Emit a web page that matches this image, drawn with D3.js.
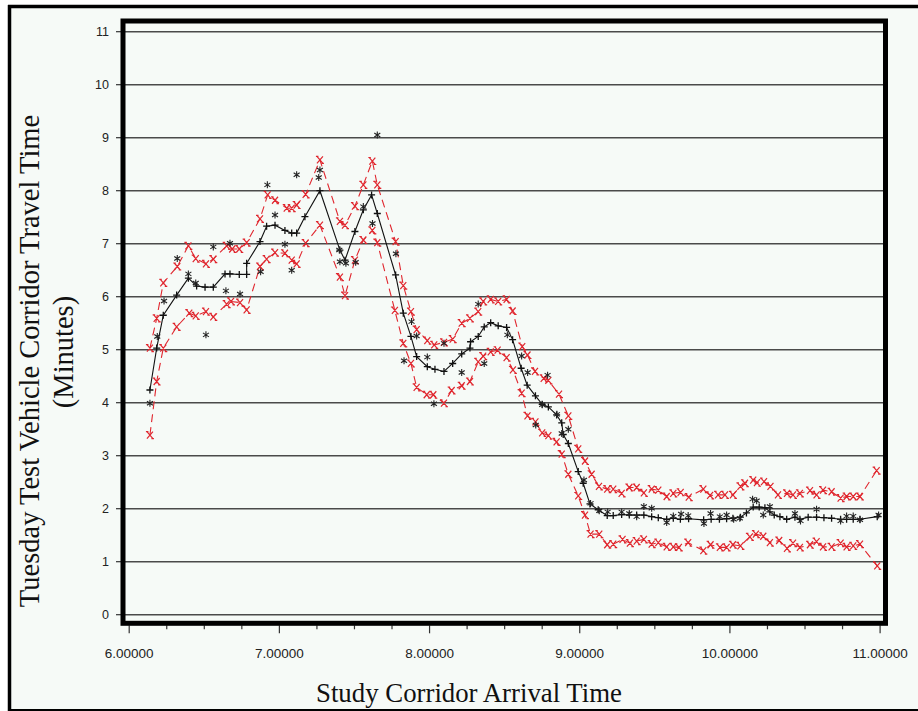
<!DOCTYPE html>
<html>
<head>
<meta charset="utf-8">
<script src="https://cdn.jsdelivr.net/npm/d3@7"></script>
<style>
  body { margin: 0; background: #fff; }
  svg { display: block; }
</style>
</head>
<body>
<svg></svg>
<script>
const width = 918;
const height = 711;

// smoothed mean travel time (solid black, "+")
const meanSeries = [
  [6.138,4.24],[6.183,5.03],[6.227,5.65],[6.316,6.03],[6.394,6.35],[6.449,6.20],[6.505,6.18],[6.56,6.18],
  [6.638,6.43],[6.671,6.43],[6.733,6.42],[6.782,6.42],[6.782,6.63],[6.871,7.04],[6.915,7.33],[6.971,7.35],
  [7.037,7.25],[7.082,7.20],[7.115,7.20],[7.17,7.51],[7.27,8.00],[7.403,6.88],[7.437,6.69],[7.503,7.23],
  [7.559,7.64],[7.614,7.92],[7.652,7.57],[7.774,6.41],[7.825,5.69],[7.876,5.25],[7.914,4.87],[7.985,4.68],
  [8.036,4.63],[8.096,4.59],[8.154,4.74],[8.214,4.92],[8.269,5.03],[8.273,5.15],[8.324,5.25],[8.364,5.43],
  [8.407,5.51],[8.457,5.45],[8.513,5.42],[8.553,5.19],[8.61,4.65],[8.65,4.33],[8.705,4.13],[8.75,3.97],
  [8.791,3.92],[8.846,3.77],[8.88,3.62],[8.89,3.40],[8.924,3.23],[8.99,2.70],[9.023,2.48],[9.068,2.09],
  [9.123,1.98],[9.183,1.87],[9.223,1.87],[9.279,1.89],[9.33,1.88],[9.379,1.88],[9.427,1.88],[9.479,1.85],
  [9.523,1.83],[9.579,1.80],[9.623,1.82],[9.67,1.80],[9.725,1.81],[9.825,1.79],[9.875,1.80],[9.93,1.80],
  [9.978,1.81],[10.02,1.82],[10.07,1.84],[10.11,1.92],[10.155,2.03],[10.195,2.03],[10.233,2.02],[10.266,1.94],
  [10.295,1.88],[10.333,1.85],[10.378,1.80],[10.433,1.84],[10.466,1.80],[10.521,1.84],[10.577,1.84],[10.626,1.83],
  [10.677,1.82],[10.737,1.80],[10.777,1.80],[10.821,1.80],[10.866,1.80],[10.981,1.85]
];

// upper bound (red dashed, "x")
const upperSeries = [
  [6.138,5.03],[6.183,5.59],[6.227,6.26],[6.32,6.57],[6.394,6.96],[6.443,6.72],[6.511,6.62],[6.56,6.71],
  [6.649,6.96],[6.686,6.90],[6.733,6.90],[6.782,7.02],[6.871,7.47],[6.922,7.92],[6.971,7.82],[7.049,7.67],
  [7.082,7.67],[7.115,7.73],[7.175,7.93],[7.27,8.58],[7.403,7.42],[7.437,7.35],[7.503,7.71],[7.559,8.11],
  [7.619,8.56],[7.652,8.11],[7.774,7.04],[7.825,6.21],[7.876,5.72],[7.914,5.38],[7.985,5.17],[8.031,5.09],
  [8.096,5.14],[8.154,5.20],[8.214,5.50],[8.269,5.59],[8.324,5.72],[8.357,5.91],[8.407,5.95],[8.457,5.91],
  [8.513,5.95],[8.553,5.73],[8.617,5.06],[8.652,4.90],[8.702,4.59],[8.76,4.46],[8.791,4.42],[8.862,4.16],
  [8.924,3.75],[8.99,3.13],[9.035,2.90],[9.079,2.65],[9.128,2.42],[9.183,2.37],[9.223,2.37],[9.279,2.29],
  [9.33,2.40],[9.379,2.40],[9.427,2.30],[9.479,2.37],[9.523,2.35],[9.579,2.23],[9.623,2.29],[9.672,2.31],
  [9.726,2.22],[9.823,2.37],[9.868,2.25],[9.921,2.26],[9.967,2.26],[10.02,2.26],[10.07,2.42],[10.1,2.48],
  [10.155,2.54],[10.18,2.49],[10.227,2.51],[10.27,2.42],[10.32,2.26],[10.38,2.29],[10.42,2.26],[10.466,2.29],
  [10.533,2.34],[10.577,2.26],[10.62,2.35],[10.677,2.32],[10.737,2.20],[10.777,2.23],[10.821,2.23],[10.866,2.23],
  [10.977,2.72]
];

// lower bound (red dashed, "x")
const lowerSeries = [
  [6.138,3.39],[6.183,4.40],[6.227,5.03],[6.316,5.43],[6.40,5.69],[6.443,5.64],[6.511,5.72],[6.56,5.62],
  [6.649,5.86],[6.678,5.91],[6.738,5.89],[6.782,5.75],[6.871,6.57],[6.915,6.71],[6.971,6.83],[7.037,6.82],
  [7.082,6.69],[7.115,6.62],[7.175,7.01],[7.27,7.35],[7.403,6.37],[7.437,6.02],[7.503,6.69],[7.559,7.07],
  [7.619,7.25],[7.652,7.02],[7.769,5.74],[7.825,5.12],[7.876,4.74],[7.914,4.29],[7.981,4.15],[8.025,4.15],
  [8.096,3.99],[8.147,4.23],[8.214,4.32],[8.269,4.40],[8.324,4.77],[8.357,4.88],[8.407,4.96],[8.453,4.99],
  [8.513,4.85],[8.555,4.62],[8.613,4.18],[8.652,3.75],[8.705,3.64],[8.75,3.43],[8.791,3.38],[8.846,3.26],
  [8.88,3.03],[8.924,2.65],[8.99,2.24],[9.035,1.88],[9.072,1.52],[9.13,1.52],[9.183,1.32],[9.223,1.33],
  [9.285,1.42],[9.334,1.35],[9.379,1.39],[9.427,1.42],[9.479,1.33],[9.523,1.36],[9.579,1.28],[9.623,1.28],
  [9.66,1.27],[9.722,1.36],[9.823,1.21],[9.871,1.32],[9.933,1.27],[9.978,1.27],[10.02,1.32],[10.07,1.30],
  [10.133,1.47],[10.173,1.52],[10.222,1.48],[10.266,1.36],[10.328,1.40],[10.38,1.25],[10.42,1.35],[10.466,1.27],
  [10.533,1.32],[10.577,1.38],[10.62,1.28],[10.677,1.28],[10.737,1.35],[10.777,1.28],[10.821,1.30],[10.866,1.33],
  [10.981,0.92]
];

// individual test vehicle runs ("*")
const observed = [
  [6.138,3.99],[6.187,5.25],[6.232,5.92],[6.32,6.72],[6.394,6.43],[6.443,6.26],[6.511,5.28],[6.56,6.94],
  [6.644,6.11],[6.671,7.01],[6.738,6.05],[6.875,6.47],[6.92,8.11],[6.971,7.54],[7.037,6.99],[7.082,6.50],
  [7.115,8.30],[7.262,8.25],[7.27,8.39],[7.399,6.88],[7.403,6.66],[7.443,6.63],[7.508,6.65],[7.559,7.70],
  [7.62,7.38],[7.652,9.05],[7.776,6.81],[7.83,4.79],[7.88,5.53],[7.914,5.26],[7.985,4.86],[8.029,3.98],
  [8.096,5.12],[8.214,4.57],[8.324,5.86],[8.364,4.74],[8.518,5.28],[8.613,4.88],[8.653,4.57],[8.707,3.58],
  [8.75,3.96],[8.786,4.52],[8.848,3.78],[8.88,3.42],[8.924,3.50],[9.028,2.54],[9.072,2.10],[9.13,1.96],
  [9.186,1.94],[9.279,1.94],[9.33,1.91],[9.379,1.85],[9.427,2.04],[9.479,2.01],[9.579,1.74],[9.623,1.86],
  [9.675,1.90],[9.722,1.87],[9.827,1.72],[9.871,1.91],[9.933,1.85],[9.978,1.88],[10.025,1.80],[10.066,1.82],
  [10.151,2.18],[10.178,2.15],[10.222,1.88],[10.266,2.04],[10.433,1.91],[10.47,1.77],[10.577,1.99],[10.737,1.77],
  [10.777,1.86],[10.821,1.86],[10.866,1.79],[10.99,1.88]
];

const yTicks = d3.range(0, 12);
const xTicks = [6, 7, 8, 9, 10, 11];
const xMinorTicks = d3.range(6, 11.01, 0.25);

const xLabel = "Study Corridor Arrival Time";
const yLabel1 = "Tuesday Test Vehicle Corridor Travel Time";
const yLabel2 = "(Minutes)";

const svg = d3.select("svg").attr("width", width).attr("height", height);

const x = d3.scaleLinear().domain([6, 11]).range([129.2, 880.1]);
const y = d3.scaleLinear().domain([0, 11]).range([614.7, 31.7]);

const frame = { left: 123, right: 885.5, top: 21, bottom: 623.3 };

// page background + outer border
svg.append("rect").attr("width", width).attr("height", height).attr("fill", "#fff");
svg.append("rect").attr("x", 9.5).attr("y", 6.5).attr("width", width - 9.5).attr("height", height - 8)
  .attr("fill", "#f6faf7");
svg.append("line").attr("x1", 8).attr("x2", width).attr("y1", 6.5).attr("y2", 6.5)
  .attr("stroke", "#000").attr("stroke-width", 3.5);
svg.append("line").attr("x1", 9.5).attr("x2", 9.5).attr("y1", 5).attr("y2", height)
  .attr("stroke", "#000").attr("stroke-width", 3.5);
svg.append("line").attr("x1", 8).attr("x2", width).attr("y1", 710).attr("y2", 710)
  .attr("stroke", "#000").attr("stroke-width", 2);

// gridlines
svg.append("g").selectAll("line")
  .data(yTicks)
  .join("line")
  .attr("x1", frame.left).attr("x2", frame.right)
  .attr("y1", d => y(d)).attr("y2", d => y(d))
  .attr("stroke", "#4a4a4a").attr("stroke-width", 1.6);

// y axis ticks + labels
const yAxis = svg.append("g");
yAxis.selectAll("line")
  .data(yTicks)
  .join("line")
  .attr("x1", 116).attr("x2", frame.left)
  .attr("y1", d => y(d)).attr("y2", d => y(d))
  .attr("stroke", "#333").attr("stroke-width", 1.2);
yAxis.selectAll("text")
  .data(yTicks)
  .join("text")
  .attr("x", 109).attr("y", d => y(d))
  .attr("dy", "0.35em")
  .attr("text-anchor", "end")
  .attr("font-family", "Liberation Sans, Arial, sans-serif")
  .attr("font-size", 12.5)
  .attr("fill", "#222")
  .text(d => d);

// x axis ticks + labels
const xAxis = svg.append("g");
xAxis.selectAll("line")
  .data(xMinorTicks)
  .join("line")
  .attr("x1", d => x(d)).attr("x2", d => x(d))
  .attr("y1", frame.bottom + 2)
  .attr("y2", d => Math.abs(d - Math.round(d)) < 1e-6 ? frame.bottom + 10 : frame.bottom + 6)
  .attr("stroke", "#333").attr("stroke-width", 1.2);
xAxis.selectAll("text")
  .data(xTicks)
  .join("text")
  .attr("x", d => x(d)).attr("y", 658)
  .attr("text-anchor", "middle")
  .attr("font-family", "Liberation Sans, Arial, sans-serif")
  .attr("font-size", 13.5)
  .attr("fill", "#222")
  .text(d => d.toFixed(5));

// axis titles
svg.append("text")
  .attr("x", 469).attr("y", 702)
  .attr("text-anchor", "middle")
  .attr("font-family", "Liberation Serif, Times New Roman, serif")
  .attr("font-size", 26.8)
  .attr("fill", "#111")
  .text(xLabel);
svg.append("text")
  .attr("transform", "translate(39,361) rotate(-90)")
  .attr("text-anchor", "middle")
  .attr("font-family", "Liberation Serif, Times New Roman, serif")
  .attr("font-size", 28.5)
  .attr("fill", "#111")
  .text(yLabel1);
svg.append("text")
  .attr("transform", "translate(73,352) rotate(-90)")
  .attr("text-anchor", "middle")
  .attr("font-family", "Liberation Serif, Times New Roman, serif")
  .attr("font-size", 28.5)
  .attr("fill", "#111")
  .text(yLabel2);

const line = d3.line().x(d => x(d[0])).y(d => y(d[1]));
const red = "#e0262e";

// red bound lines
[upperSeries, lowerSeries].forEach(series => {
  svg.append("path")
    .datum(series)
    .attr("d", line)
    .attr("fill", "none")
    .attr("stroke", red)
    .attr("stroke-width", 1.1)
    .attr("stroke-dasharray", "8,5");
  svg.append("g").selectAll("path")
    .data(series)
    .join("path")
    .attr("transform", d => `translate(${x(d[0])},${y(d[1])})`)
    .attr("d", "M-3,-3.5L3,3.5M3,-3.5L-3,3.5M-4,-3.5H-1.5M1.5,3.5H4")
    .attr("fill", "none")
    .attr("stroke", red)
    .attr("stroke-width", 1.2);
});

// mean line
svg.append("path")
  .datum(meanSeries)
  .attr("d", line)
  .attr("fill", "none")
  .attr("stroke", "#111")
  .attr("stroke-width", 1.1);
svg.append("g").selectAll("path")
  .data(meanSeries)
  .join("path")
  .attr("transform", d => `translate(${x(d[0])},${y(d[1])})`)
  .attr("d", "M-3.5,0H3.5M0,-3.5V3.5")
  .attr("fill", "none")
  .attr("stroke", "#111")
  .attr("stroke-width", 1.3);

// observed runs
svg.append("g").selectAll("path")
  .data(observed)
  .join("path")
  .attr("transform", d => `translate(${x(d[0])},${y(d[1])})`)
  .attr("d", "M0,-3.5V3.5M-3,-2L3,2M-3,2L3,-2")
  .attr("fill", "none")
  .attr("stroke", "#222")
  .attr("stroke-width", 1.1);

// thick plot frame
svg.append("rect")
  .attr("x", frame.left).attr("y", frame.top)
  .attr("width", frame.right - frame.left)
  .attr("height", frame.bottom - frame.top)
  .attr("fill", "none")
  .attr("stroke", "#000")
  .attr("stroke-width", 5);
</script>
</body>
</html>
